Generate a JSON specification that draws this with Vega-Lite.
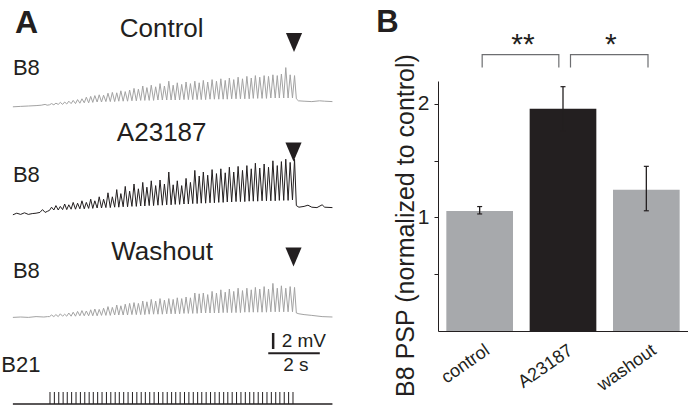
{
"$schema": "https://vega.github.io/schema/vega-lite/v6.json",
"padding": 0,
"background": "white",
"spacing": 41,
"config": {"view": {"stroke": null}, "font": "Liberation Sans", "text": {"color": "#231f20", "font": "Liberation Sans"}},
"resolve": {"scale": {"x": "independent", "y": "independent", "color": "independent"}},
"datasets": {
"ctl": [{"t":0,"v":-0.1},{"t":0.3,"v":-0.05},{"t":0.6,"v":0},{"t":0.9,"v":0.05},{"t":1.1,"v":0.1},{"t":1.25,"v":0.2},{"t":1.33,"v":0.1},
{"t":1.42,"v":0.15},{"t":1.5,"v":0.3},{"t":1.59,"v":0.15},{"t":1.67,"v":0.35},{"t":1.76,"v":0.2},{"t":1.84,"v":0.45},{"t":1.93,"v":0.2},{"t":2.01,"v":0.5},
{"t":2.09,"v":0.25},{"t":2.17,"v":0.6},{"t":2.26,"v":0.3},{"t":2.34,"v":0.7},{"t":2.43,"v":0.3},{"t":2.51,"v":0.8},{"t":2.6,"v":0.35},{"t":2.68,"v":0.9},
{"t":2.77,"v":0.4},{"t":2.85,"v":1.1},{"t":2.94,"v":0.4},{"t":3.02,"v":1.2},{"t":3.1,"v":0.45},{"t":3.18,"v":1.3},{"t":3.27,"v":0.5},{"t":3.35,"v":1.4},
{"t":3.44,"v":0.5},{"t":3.52,"v":1.35},{"t":3.61,"v":0.55},{"t":3.69,"v":1.6},{"t":3.78,"v":0.55},{"t":3.86,"v":1.7},{"t":3.95,"v":0.55},{"t":4.03,"v":1.65},
{"t":4.11,"v":0.6},{"t":4.19,"v":1.9},{"t":4.28,"v":0.6},{"t":4.36,"v":1.8},{"t":4.45,"v":0.6},{"t":4.53,"v":2.0},{"t":4.62,"v":0.65},{"t":4.7,"v":2.2},
{"t":4.79,"v":0.65},{"t":4.87,"v":2.1},{"t":4.96,"v":0.7},{"t":5.04,"v":2.5},{"t":5.12,"v":0.7},{"t":5.2,"v":2.3},{"t":5.29,"v":0.7},{"t":5.37,"v":2.6},
{"t":5.46,"v":0.7},{"t":5.54,"v":2.4},{"t":5.63,"v":0.75},{"t":5.71,"v":2.8},{"t":5.8,"v":0.75},{"t":5.88,"v":2.5},{"t":5.97,"v":0.75},{"t":6.05,"v":3.1},
{"t":6.14,"v":0.75},{"t":6.22,"v":2.6},{"t":6.3,"v":0.75},{"t":6.38,"v":2.9},{"t":6.47,"v":0.75},{"t":6.55,"v":2.7},{"t":6.64,"v":0.8},{"t":6.72,"v":3.0},
{"t":6.81,"v":0.8},{"t":6.89,"v":2.8},{"t":6.98,"v":0.8},{"t":7.06,"v":3.1},{"t":7.15,"v":0.8},{"t":7.23,"v":2.9},{"t":7.31,"v":0.8},{"t":7.39,"v":3.2},
{"t":7.48,"v":0.8},{"t":7.56,"v":3.0},{"t":7.65,"v":0.85},{"t":7.73,"v":3.3},{"t":7.82,"v":0.85},{"t":7.9,"v":3.1},{"t":7.99,"v":0.85},{"t":8.07,"v":3.4},
{"t":8.16,"v":0.85},{"t":8.24,"v":3.2},{"t":8.32,"v":0.85},{"t":8.4,"v":3.5},{"t":8.49,"v":0.9},{"t":8.57,"v":3.3},{"t":8.66,"v":0.9},{"t":8.74,"v":3.6},
{"t":8.83,"v":0.9},{"t":8.91,"v":3.4},{"t":9.0,"v":0.9},{"t":9.08,"v":3.7},{"t":9.17,"v":0.9},{"t":9.25,"v":3.5},{"t":9.33,"v":0.95},{"t":9.41,"v":3.8},
{"t":9.5,"v":0.95},{"t":9.58,"v":3.6},{"t":9.67,"v":0.95},{"t":9.75,"v":3.8},{"t":9.84,"v":0.95},{"t":9.92,"v":3.7},{"t":10.01,"v":1.0},{"t":10.09,"v":3.9},
{"t":10.18,"v":1.0},{"t":10.26,"v":3.8},{"t":10.34,"v":1.0},{"t":10.42,"v":4.0},{"t":10.51,"v":1.0},{"t":10.59,"v":4.8},{"t":10.68,"v":1.0},{"t":10.76,"v":3.9},
{"t":10.85,"v":1.0},{"t":10.93,"v":3.8},
{"t":11.0,"v":0.9},{"t":11.08,"v":0.65},{"t":11.3,"v":0.6},{"t":11.6,"v":0.55},{"t":11.9,"v":0.65},{"t":12.1,"v":0.6},{"t":12.4,"v":0.55}],
"a23": [{"t":0,"v":-0.35},{"t":0.15,"v":-0.15},{"t":0.3,"v":-0.3},{"t":0.45,"v":-0.1},{"t":0.6,"v":-0.3},{"t":0.75,"v":-0.2},{"t":0.9,"v":-0.15},{"t":1.05,"v":-0.05},{"t":1.15,"v":0.3},{"t":1.25,"v":-0.05},{"t":1.35,"v":0.1},
{"t":1.42,"v":0.2},{"t":1.5,"v":0.6},{"t":1.59,"v":0.25},{"t":1.67,"v":0.8},{"t":1.76,"v":0.25},{"t":1.84,"v":0.7},{"t":1.93,"v":0.3},{"t":2.01,"v":1.0},
{"t":2.09,"v":0.3},{"t":2.17,"v":0.9},{"t":2.26,"v":0.35},{"t":2.34,"v":1.2},{"t":2.43,"v":0.35},{"t":2.51,"v":1.1},{"t":2.6,"v":0.4},{"t":2.68,"v":1.4},
{"t":2.77,"v":0.4},{"t":2.85,"v":1.2},{"t":2.94,"v":0.45},{"t":3.02,"v":1.6},{"t":3.1,"v":0.45},{"t":3.18,"v":1.4},{"t":3.27,"v":0.5},{"t":3.35,"v":1.9},
{"t":3.44,"v":0.5},{"t":3.52,"v":1.6},{"t":3.61,"v":0.55},{"t":3.69,"v":2.4},{"t":3.78,"v":0.55},{"t":3.86,"v":1.9},{"t":3.95,"v":0.6},{"t":4.03,"v":2.8},
{"t":4.11,"v":0.6},{"t":4.19,"v":2.3},{"t":4.28,"v":0.65},{"t":4.36,"v":3.2},{"t":4.45,"v":0.65},{"t":4.53,"v":2.6},{"t":4.62,"v":0.7},{"t":4.7,"v":3.5},
{"t":4.79,"v":0.7},{"t":4.87,"v":2.9},{"t":4.96,"v":0.75},{"t":5.04,"v":3.7},{"t":5.12,"v":0.75},{"t":5.2,"v":3.1},{"t":5.29,"v":0.8},{"t":5.37,"v":3.9},
{"t":5.46,"v":0.8},{"t":5.54,"v":3.3},{"t":5.63,"v":0.85},{"t":5.71,"v":4.0},{"t":5.8,"v":0.85},{"t":5.88,"v":3.5},{"t":5.97,"v":0.9},{"t":6.05,"v":5.0},
{"t":6.14,"v":0.9},{"t":6.22,"v":3.4},{"t":6.3,"v":0.95},{"t":6.38,"v":3.9},{"t":6.47,"v":0.95},{"t":6.55,"v":3.3},{"t":6.64,"v":1.0},{"t":6.72,"v":4.2},
{"t":6.81,"v":1.0},{"t":6.89,"v":3.7},{"t":6.98,"v":1.05},{"t":7.06,"v":5.2},{"t":7.15,"v":1.05},{"t":7.23,"v":4.5},{"t":7.31,"v":1.1},{"t":7.39,"v":5.0},
{"t":7.48,"v":1.1},{"t":7.56,"v":4.6},{"t":7.65,"v":1.15},{"t":7.73,"v":5.3},{"t":7.82,"v":1.15},{"t":7.9,"v":4.8},{"t":7.99,"v":1.2},{"t":8.07,"v":5.4},
{"t":8.16,"v":1.2},{"t":8.24,"v":4.9},{"t":8.32,"v":1.25},{"t":8.4,"v":5.6},{"t":8.49,"v":1.25},{"t":8.57,"v":5.0},{"t":8.66,"v":1.3},{"t":8.74,"v":5.7},
{"t":8.83,"v":1.3},{"t":8.91,"v":5.2},{"t":9.0,"v":1.3},{"t":9.08,"v":5.8},{"t":9.17,"v":1.35},{"t":9.25,"v":5.4},{"t":9.33,"v":1.35},{"t":9.41,"v":6.1},
{"t":9.5,"v":1.35},{"t":9.58,"v":5.5},{"t":9.67,"v":1.4},{"t":9.75,"v":6.0},{"t":9.84,"v":1.4},{"t":9.92,"v":5.6},{"t":10.01,"v":1.4},{"t":10.09,"v":6.4},
{"t":10.18,"v":1.4},{"t":10.26,"v":5.8},{"t":10.34,"v":1.45},{"t":10.42,"v":6.3},{"t":10.51,"v":1.45},{"t":10.59,"v":6.6},{"t":10.68,"v":1.45},{"t":10.76,"v":6.2},
{"t":10.85,"v":1.5},{"t":10.93,"v":6.6},
{"t":11.0,"v":0.8},{"t":11.1,"v":0.6},{"t":11.3,"v":0.7},{"t":11.45,"v":0.85},{"t":11.6,"v":0.6},{"t":11.8,"v":0.55},{"t":12.0,"v":0.9},{"t":12.1,"v":0.6},{"t":12.4,"v":0.55}],
"wash": [{"t":0,"v":-0.05},{"t":0.3,"v":0},{"t":0.6,"v":-0.05},{"t":0.9,"v":0.05},{"t":1.2,"v":0},{"t":1.35,"v":0.05},
{"t":1.42,"v":0.05},{"t":1.5,"v":0.25},{"t":1.59,"v":0.05},{"t":1.67,"v":0.3},{"t":1.76,"v":0.05},{"t":1.84,"v":0.4},{"t":1.93,"v":0.1},{"t":2.01,"v":0.35},
{"t":2.09,"v":0.1},{"t":2.17,"v":0.5},{"t":2.26,"v":0.1},{"t":2.34,"v":0.6},{"t":2.43,"v":0.1},{"t":2.51,"v":0.7},{"t":2.6,"v":0.15},{"t":2.68,"v":0.8},
{"t":2.77,"v":0.15},{"t":2.85,"v":0.75},{"t":2.94,"v":0.15},{"t":3.02,"v":0.9},{"t":3.1,"v":0.15},{"t":3.18,"v":1.0},{"t":3.27,"v":0.15},{"t":3.35,"v":0.95},
{"t":3.44,"v":0.2},{"t":3.52,"v":1.1},{"t":3.61,"v":0.2},{"t":3.69,"v":1.3},{"t":3.78,"v":0.2},{"t":3.86,"v":1.2},{"t":3.95,"v":0.25},{"t":4.03,"v":1.5},
{"t":4.11,"v":0.25},{"t":4.19,"v":1.4},{"t":4.28,"v":0.25},{"t":4.36,"v":1.6},{"t":4.45,"v":0.25},{"t":4.53,"v":1.7},{"t":4.62,"v":0.3},{"t":4.7,"v":1.8},
{"t":4.79,"v":0.3},{"t":4.87,"v":1.7},{"t":4.96,"v":0.3},{"t":5.04,"v":2.0},{"t":5.12,"v":0.3},{"t":5.2,"v":1.9},{"t":5.29,"v":0.35},{"t":5.37,"v":2.2},
{"t":5.46,"v":0.35},{"t":5.54,"v":2.0},{"t":5.63,"v":0.35},{"t":5.71,"v":2.3},{"t":5.8,"v":0.35},{"t":5.88,"v":2.1},{"t":5.97,"v":0.4},{"t":6.05,"v":2.3},
{"t":6.14,"v":0.4},{"t":6.22,"v":2.2},{"t":6.3,"v":0.4},{"t":6.38,"v":2.4},{"t":6.47,"v":0.4},{"t":6.55,"v":2.3},{"t":6.64,"v":0.45},{"t":6.72,"v":2.5},
{"t":6.81,"v":0.45},{"t":6.89,"v":2.4},{"t":6.98,"v":0.45},{"t":7.06,"v":3.0},{"t":7.15,"v":0.45},{"t":7.23,"v":2.9},{"t":7.31,"v":0.5},{"t":7.39,"v":3.0},
{"t":7.48,"v":0.5},{"t":7.56,"v":2.8},{"t":7.65,"v":0.5},{"t":7.73,"v":3.2},{"t":7.82,"v":0.5},{"t":7.9,"v":3.0},{"t":7.99,"v":0.5},{"t":8.07,"v":3.4},
{"t":8.16,"v":0.55},{"t":8.24,"v":3.1},{"t":8.32,"v":0.55},{"t":8.4,"v":3.5},{"t":8.49,"v":0.55},{"t":8.57,"v":3.2},{"t":8.66,"v":0.55},{"t":8.74,"v":3.6},
{"t":8.83,"v":0.55},{"t":8.91,"v":3.3},{"t":9.0,"v":0.6},{"t":9.08,"v":3.6},{"t":9.17,"v":0.6},{"t":9.25,"v":3.4},{"t":9.33,"v":0.6},{"t":9.41,"v":3.7},
{"t":9.5,"v":0.6},{"t":9.58,"v":3.5},{"t":9.67,"v":0.6},{"t":9.75,"v":3.8},{"t":9.84,"v":0.6},{"t":9.92,"v":3.5},{"t":10.01,"v":0.65},{"t":10.09,"v":4.2},
{"t":10.18,"v":0.65},{"t":10.26,"v":3.6},{"t":10.34,"v":0.65},{"t":10.42,"v":3.9},{"t":10.51,"v":0.65},{"t":10.59,"v":3.6},{"t":10.68,"v":0.65},{"t":10.76,"v":3.8},
{"t":10.85,"v":0.65},{"t":10.93,"v":3.7},
{"t":11.0,"v":0.5},{"t":11.1,"v":0.4},{"t":11.3,"v":0.3},{"t":11.6,"v":0.2},{"t":12.0,"v":0.05},{"t":12.4,"v":0}],
"stim": [{"t":1.44,"v":0,"h":1.5},{"t":1.61,"v":0,"h":1.5},{"t":1.78,"v":0,"h":1.5},{"t":1.95,"v":0,"h":1.5},{"t":2.11,"v":0,"h":1.5},{"t":2.28,"v":0,"h":1.5},{"t":2.45,"v":0,"h":1.5},{"t":2.62,"v":0,"h":1.5},{"t":2.79,"v":0,"h":1.5},{"t":2.96,"v":0,"h":1.5},
{"t":3.12,"v":0,"h":1.5},{"t":3.29,"v":0,"h":1.5},{"t":3.46,"v":0,"h":1.5},{"t":3.63,"v":0,"h":1.5},{"t":3.8,"v":0,"h":1.5},{"t":3.97,"v":0,"h":1.5},{"t":4.13,"v":0,"h":1.5},{"t":4.3,"v":0,"h":1.5},{"t":4.47,"v":0,"h":1.5},{"t":4.64,"v":0,"h":1.5},
{"t":4.81,"v":0,"h":1.5},{"t":4.98,"v":0,"h":1.5},{"t":5.14,"v":0,"h":1.5},{"t":5.31,"v":0,"h":1.5},{"t":5.48,"v":0,"h":1.5},{"t":5.65,"v":0,"h":1.5},{"t":5.82,"v":0,"h":1.5},{"t":5.99,"v":0,"h":1.5},{"t":6.16,"v":0,"h":1.5},{"t":6.32,"v":0,"h":1.5},
{"t":6.49,"v":0,"h":1.5},{"t":6.66,"v":0,"h":1.5},{"t":6.83,"v":0,"h":1.5},{"t":7.0,"v":0,"h":1.5},{"t":7.17,"v":0,"h":1.5},{"t":7.33,"v":0,"h":1.5},{"t":7.5,"v":0,"h":1.5},{"t":7.67,"v":0,"h":1.5},{"t":7.84,"v":0,"h":1.5},{"t":8.01,"v":0,"h":1.5},
{"t":8.18,"v":0,"h":1.5},{"t":8.34,"v":0,"h":1.5},{"t":8.51,"v":0,"h":1.5},{"t":8.68,"v":0,"h":1.5},{"t":8.85,"v":0,"h":1.5},{"t":9.02,"v":0,"h":1.5},{"t":9.19,"v":0,"h":1.5},{"t":9.35,"v":0,"h":1.5},{"t":9.52,"v":0,"h":1.5},{"t":9.69,"v":0,"h":1.5},
{"t":9.86,"v":0,"h":1.5},{"t":10.03,"v":0,"h":1.5},{"t":10.2,"v":0,"h":1.5},{"t":10.36,"v":0,"h":1.5},{"t":10.53,"v":0,"h":1.5},{"t":10.7,"v":0,"h":1.5},{"t":10.87,"v":0,"h":1.5}],
"bars": [{"cond":"control","m":1.055,"lo":1.03,"hi":1.095},{"cond":"A23187","m":1.955,"lo":1.76,"hi":2.15},{"cond":"washout","m":1.243,"lo":1.058,"hi":1.449}]
},
"hconcat": [
{"vconcat": [
 {"width": 335, "height": 112,
  "encoding": {"x": {"field": "t", "type": "quantitative", "scale": {"domain": [-0.5, 12.5], "nice": false, "zero": false}, "axis": null},
               "y": {"field": "v", "type": "quantitative", "scale": {"domain": [-0.75, 13.25], "nice": false, "zero": false}, "axis": null}},
  "layer": [
   {"data": {"name": "ctl"}, "mark": {"type": "line", "color": "#a3a3a3", "strokeWidth": 1}},
   {"data": {"values": [{"t": 0.08, "v": 9.09, "s": "A"}]}, "mark": {"type": "text", "fontSize": 32, "fontWeight": "bold", "align": "left", "baseline": "alphabetic"}, "encoding": {"text": {"field": "s"}}},
   {"data": {"values": [{"t": 5.775, "v": 8.59, "s": "Control"}]}, "mark": {"type": "text", "fontSize": 26, "align": "center", "baseline": "alphabetic"}, "encoding": {"text": {"field": "s"}}},
   {"data": {"values": [{"t": 0.0, "v": 3.875, "s": "B8"}]}, "mark": {"type": "text", "fontSize": 22, "align": "left", "baseline": "alphabetic"}, "encoding": {"text": {"field": "s"}}},
   {"data": {"values": [{"t": 10.91, "v": 7.94}]}, "mark": {"type": "point", "shape": "M-0.85,-1L0.85,-1L0,1Z", "size": 361, "filled": true, "color": "#231f20", "opacity": 1}}
  ]},
 {"width": 335, "height": 108,
  "encoding": {"x": {"field": "t", "type": "quantitative", "scale": {"domain": [-0.5, 12.5], "nice": false, "zero": false}, "axis": null},
               "y": {"field": "v", "type": "quantitative", "scale": {"domain": [-1, 12.5], "nice": false, "zero": false}, "axis": null}},
  "layer": [
   {"data": {"name": "a23"}, "mark": {"type": "line", "color": "#231f20", "strokeWidth": 1}},
   {"data": {"values": [{"t": 5.775, "v": 8.91, "s": "A23187"}]}, "mark": {"type": "text", "fontSize": 26, "align": "center", "baseline": "alphabetic"}, "encoding": {"text": {"field": "s"}}},
   {"data": {"values": [{"t": 0.0, "v": 3.79, "s": "B8"}]}, "mark": {"type": "text", "fontSize": 22, "align": "left", "baseline": "alphabetic"}, "encoding": {"text": {"field": "s"}}},
   {"data": {"values": [{"t": 10.89, "v": 7.5}]}, "mark": {"type": "point", "shape": "M-0.85,-1L0.85,-1L0,1Z", "size": 361, "filled": true, "color": "#231f20", "opacity": 1}}
  ]},
 {"width": 335, "height": 105,
  "encoding": {"x": {"field": "t", "type": "quantitative", "scale": {"domain": [-0.5, 12.5], "nice": false, "zero": false}, "axis": null},
               "y": {"field": "v", "type": "quantitative", "scale": {"domain": [-1, 12.125], "nice": false, "zero": false}, "axis": null}},
  "layer": [
   {"data": {"name": "wash"}, "mark": {"type": "line", "color": "#a3a3a3", "strokeWidth": 1}},
   {"data": {"values": [{"t": 5.79, "v": 7.125, "s": "Washout"}]}, "mark": {"type": "text", "fontSize": 26, "align": "center", "baseline": "alphabetic"}, "encoding": {"text": {"field": "s"}}},
   {"data": {"values": [{"t": 0.0, "v": 4.84, "s": "B8"}]}, "mark": {"type": "text", "fontSize": 22, "align": "left", "baseline": "alphabetic"}, "encoding": {"text": {"field": "s"}}},
   {"data": {"values": [{"t": 10.89, "v": 7.5}]}, "mark": {"type": "point", "shape": "M-0.85,-1L0.85,-1L0,1Z", "size": 361, "filled": true, "color": "#231f20", "opacity": 1}}
  ]},
 {"width": 335, "height": 81,
  "encoding": {"x": {"field": "t", "type": "quantitative", "scale": {"domain": [-0.5, 12.5], "nice": false, "zero": false}, "axis": null},
               "y": {"field": "v", "type": "quantitative", "scale": {"domain": [-0.25, 9.875], "nice": false, "zero": false}, "axis": null}},
  "layer": [
   {"data": {"values": [{"t": 0, "t2": 12.4, "v": 0}]}, "mark": {"type": "rule", "color": "#231f20", "strokeWidth": 1.3}, "encoding": {"x2": {"field": "t2"}}},
   {"data": {"name": "stim"}, "mark": {"type": "rule", "color": "#231f20", "strokeWidth": 1}, "encoding": {"y2": {"field": "h"}}},
   {"data": {"values": [{"t": 10.1, "v": 6.875, "v2": 8.875}]}, "mark": {"type": "rule", "color": "#231f20", "strokeWidth": 2.5}, "encoding": {"y2": {"field": "v2"}}},
   {"data": {"values": [{"t": 9.91, "t2": 11.91, "v": 6.33}]}, "mark": {"type": "rule", "color": "#231f20", "strokeWidth": 2}, "encoding": {"x2": {"field": "t2"}}},
   {"data": {"values": [{"t": 10.43, "v": 7.16, "s": "2 mV"}]}, "mark": {"type": "text", "fontSize": 19, "align": "left", "baseline": "alphabetic"}, "encoding": {"text": {"field": "s"}}},
   {"data": {"values": [{"t": 10.98, "v": 4.16, "s": "2 s"}]}, "mark": {"type": "text", "fontSize": 19, "align": "center", "baseline": "alphabetic"}, "encoding": {"text": {"field": "s"}}},
   {"data": {"values": [{"t": -0.45, "v": 4.04, "s": "B21"}]}, "mark": {"type": "text", "fontSize": 22, "align": "left", "baseline": "alphabetic"}, "encoding": {"text": {"field": "s"}}}
  ]}
 ],
 "spacing": 0, "bounds": "flush",
 "resolve": {"scale": {"x": "independent", "y": "independent"}}},
{"vconcat": [
 {"width": 250, "height": 81,
  "encoding": {"x": {"field": "x", "type": "quantitative", "scale": {"domain": [-0.5, 2.5], "nice": false, "zero": false}, "axis": null},
               "y": {"field": "y", "type": "quantitative", "scale": {"domain": [2.2, 2.913], "nice": false, "zero": false}, "axis": null}},
  "layer": [
   {"data": {"values": [{"b":1,"o":1,"x":0.03,"y":2.318},{"b":1,"o":2,"x":0.03,"y":2.432},{"b":1,"o":3,"x":0.95,"y":2.432},{"b":1,"o":4,"x":0.95,"y":2.318},
                        {"b":2,"o":1,"x":1.09,"y":2.318},{"b":2,"o":2,"x":1.09,"y":2.432},{"b":2,"o":3,"x":2.02,"y":2.432},{"b":2,"o":4,"x":2.02,"y":2.318}]},
    "mark": {"type": "line", "color": "#6d6e71", "strokeWidth": 1.2},
    "encoding": {"detail": {"field": "b", "type": "nominal"}, "order": {"field": "o", "type": "quantitative"}}},
   {"data": {"values": [{"x": 0.52, "y": 2.434, "s": "**"}, {"x": 1.573, "y": 2.434, "s": "*"}]}, "mark": {"type": "text", "fontSize": 30, "align": "center", "baseline": "alphabetic"}, "encoding": {"text": {"field": "s"}}},
   {"data": {"values": [{"x": -1.24, "y": 2.632, "s": "B"}]}, "mark": {"type": "text", "fontSize": 31, "fontWeight": "bold", "align": "left", "baseline": "alphabetic"}, "encoding": {"text": {"field": "s"}}}
  ]},
 {"width": 250, "height": 250,
  "data": {"name": "bars"},
  "encoding": {"x": {"field": "cond", "type": "nominal", "sort": ["control", "A23187", "washout"], "scale": {"paddingInner": 0.2, "paddingOuter": 0.1},
     "axis": {"title": null, "labelAngle": -35, "labelAlign": "right", "labelBaseline": "top", "labelFontSize": 18, "labelColor": "#231f20", "labelFont": "Liberation Sans", "ticks": false, "tickSize": 0, "domainColor": "#231f20", "labelPadding": 10, "labelOffset": 3}}},
  "layer": [
   {"mark": {"type": "bar"},
    "encoding": {"y": {"field": "m", "type": "quantitative", "title": "B8 PSP (normalized to control)", "scale": {"domain": [0, 2.2], "nice": false},
       "axis": {"values": [0.5, 1, 1.5, 2], "labelExpr": "datum.value % 1 ? '' : '' + datum.value", "tickSize": 4, "tickColor": "#231f20", "domainColor": "#231f20", "labelColor": "#231f20", "labelFontSize": 21, "labelFont": "Liberation Sans", "labelPadding": 5, "grid": false,
                "titleFontSize": 25, "titleFontWeight": "normal", "titleColor": "#231f20", "titleFont": "Liberation Sans", "titleX": -25, "titleY": 144, "titleAngle": -90, "titleBaseline": "alphabetic", "titleAlign": "center"}},
     "color": {"field": "cond", "type": "nominal", "scale": {"domain": ["control", "A23187", "washout"], "range": ["#a7a9ac", "#231f20", "#a7a9ac"]}, "legend": null}}},
   {"mark": {"type": "rule", "color": "#231f20", "strokeWidth": 1.3},
    "encoding": {"y": {"field": "lo", "type": "quantitative", "title": "B8 PSP (normalized to control)"}, "y2": {"field": "hi"}}},
   {"mark": {"type": "tick", "color": "#231f20", "size": 5, "thickness": 1.2, "opacity": 1},
    "encoding": {"y": {"field": "hi", "type": "quantitative", "title": "B8 PSP (normalized to control)"}}},
   {"mark": {"type": "tick", "color": "#231f20", "size": 5, "thickness": 1.2, "opacity": 1},
    "encoding": {"y": {"field": "lo", "type": "quantitative", "title": "B8 PSP (normalized to control)"}}}
  ]}
 ],
 "spacing": 0, "bounds": "flush",
 "resolve": {"scale": {"x": "independent", "y": "independent"}}}
]
}
